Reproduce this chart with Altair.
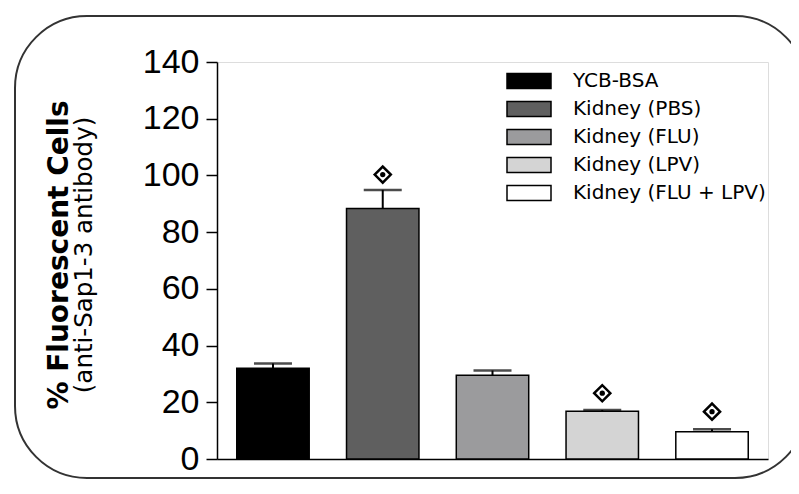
import altair as alt
import pandas as pd

groups = ["YCB-BSA", "Kidney (PBS)", "Kidney (FLU)", "Kidney (LPV)", "Kidney (FLU + LPV)"]
means = [32.0, 88.3, 29.5, 16.8, 9.6]
errs = [1.7, 6.6, 1.7, 0.5, 0.9]
colors = ["#000000", "#5f5f5f", "#9b9b9d", "#d4d4d4", "#ffffff"]
sig_groups = ["Kidney (PBS)", "Kidney (LPV)", "Kidney (FLU + LPV)"]
sig_y = [100.3, 23.2, 16.7]
y_ticks = [0, 20, 40, 60, 80, 100, 120, 140]
title_main = "% Fluorescent Cells"
title_sub = "(anti-Sap1-3 antibody)"

df = pd.DataFrame({
    "group": groups,
    "mean": means,
    "upper": [m + e for m, e in zip(means, errs)],
})
sig = pd.DataFrame({"group": sig_groups, "y": sig_y})

xenc = alt.X("group:N", sort=groups,
             scale=alt.Scale(paddingInner=0.34, paddingOuter=0.18),
             axis=alt.Axis(labels=False, ticks=False, title=None,
                           domainColor="black", domainWidth=1.5))
yscale = alt.Scale(domain=[0, 140], nice=False)

bars = alt.Chart(df).mark_bar(stroke="black", strokeWidth=1.5).encode(
    x=xenc,
    y=alt.Y("mean:Q", scale=yscale,
            axis=alt.Axis(values=y_ticks, title=None, grid=False,
                          labelFontSize=34, labelFont="Liberation Sans",
                          labelColor="black", tickSize=11, tickWidth=1.5,
                          tickColor="black", domainColor="black",
                          domainWidth=1.5, labelPadding=7)),
    color=alt.Color("group:N", sort=groups,
                    scale=alt.Scale(domain=groups, range=colors),
                    legend=alt.Legend(
                        title=None, orient="none", legendX=301, legendY=8,
                        symbolType="M-2.2,-0.75L2.2,-0.75L2.2,0.75L-2.2,0.75Z",
                        symbolSize=400, symbolStrokeColor="black",
                        symbolStrokeWidth=1.5, symbolOpacity=1,
                        labelOffset=33, rowPadding=6, labelFontSize=20,
                        labelFont="DejaVu Sans", labelColor="black",
                        labelLimit=400)),
)

err_line = alt.Chart(df).mark_rule(color="black", strokeWidth=2).encode(
    x=alt.X("group:N", sort=groups), y="mean:Q", y2="upper:Q")

err_cap = alt.Chart(df).mark_tick(color="black", size=38, thickness=2.5).encode(
    x=alt.X("group:N", sort=groups), y="upper:Q")

diam = alt.Chart(sig).mark_point(shape="diamond", filled=False, color="black",
                                 strokeWidth=2.5, size=260, opacity=1).encode(
    x=alt.X("group:N", sort=groups), y="y:Q")
dot = alt.Chart(sig).mark_point(shape="circle", filled=True, color="black",
                                size=28, opacity=1).encode(
    x=alt.X("group:N", sort=groups), y="y:Q")

tdf = pd.DataFrame({"t": [title_main]})
t1 = alt.Chart(tdf).mark_text(angle=270, fontSize=28, fontWeight="bold",
                              font="DejaVu Sans", color="black",
                              align="center", baseline="middle").encode(
    text="t:N", x=alt.value(-157), y=alt.value(193))
tdf2 = pd.DataFrame({"t": [title_sub]})
t2 = alt.Chart(tdf2).mark_text(angle=270, fontSize=24.5,
                               font="DejaVu Sans", color="black",
                               align="center", baseline="middle").encode(
    text="t:N", x=alt.value(-132), y=alt.value(193))

frame = alt.Chart(tdf).mark_rect(fill=None, stroke="#333333", strokeWidth=2,
                                 cornerRadius=72).encode(
    x=alt.value(-202), x2=alt.value(590), y=alt.value(-46), y2=alt.value(416))

chart = alt.layer(frame, bars, err_line, err_cap, diam, dot, t1, t2).properties(
    width=551, height=397,
    autosize=alt.AutoSizeParams(type="none"),
    padding={"left": 209, "top": 54, "right": 23, "bottom": 21},
).configure_view(stroke="black", strokeWidth=1.5).configure(background="white")

chart.save("out.html", embed_options={"renderer": "svg", "actions": False})
